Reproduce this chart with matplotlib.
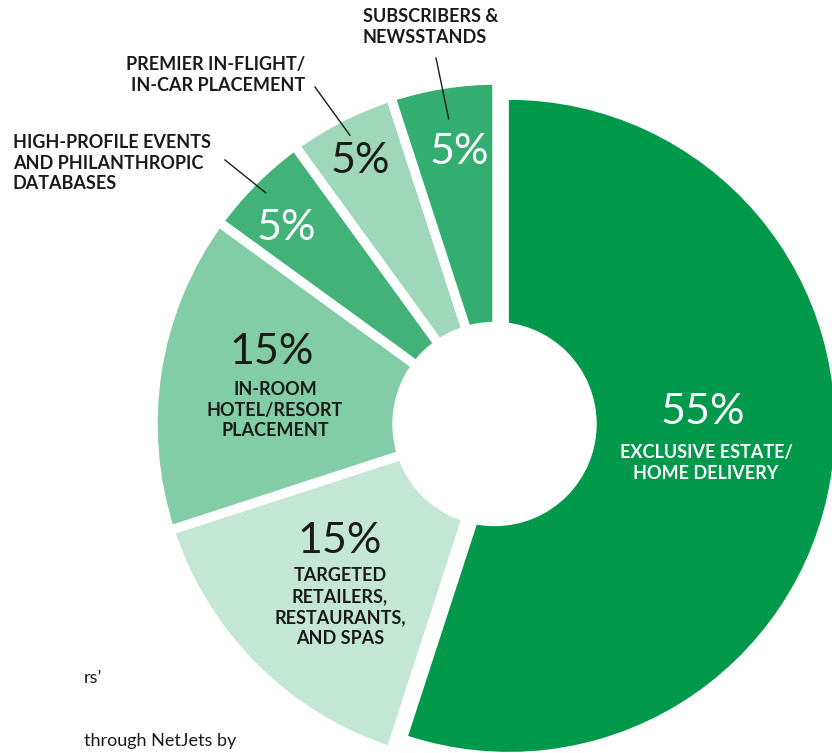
import numpy as np
import matplotlib
matplotlib.use('Agg')
import matplotlib.pyplot as plt
from matplotlib.patches import Circle

# distribution shares, clockwise from 12 o'clock
shares = [55, 15, 15, 5, 5, 5]
pct_labels = ['55%', '15%', '15%', '5%', '5%', '5%']
names = ['EXCLUSIVE ESTATE/\nHOME DELIVERY',
         'TARGETED\nRETAILERS,\nRESTAURANTS,\nAND SPAS',
         'IN-ROOM\nHOTEL/RESORT\nPLACEMENT',
         'HIGH-PROFILE EVENTS\nAND PHILANTHROPIC\nDATABASES',
         'PREMIER IN-FLIGHT/\nIN-CAR PLACEMENT',
         'SUBSCRIBERS &\nNEWSSTANDS']
colors = ['#00994c', '#c3e6d5', '#82cda5', '#42b278', '#9ed7b9', '#34ad71']
pct_colors = ['white', '#1a1a1a', '#1a1a1a', 'white', '#1a1a1a', 'white']

W, H = 832, 753
INK = '#1a1a1a'
plt.rcParams['font.family'] = ['Lato', 'DejaVu Sans']

fig = plt.figure(figsize=(W / 100, H / 100), dpi=100)
ax = fig.add_axes([0, 0, 1, 1])

cx, cy = 497, 424
# y axis is inverted (image coords), so go "counterclockwise" in data to get clockwise on screen
wedges, _ = ax.pie(shares, colors=colors, center=(cx, cy), radius=344,
                   startangle=-90, counterclock=True,
                   explode=[12, 0, 0, 0, 0, 0],
                   wedgeprops=dict(edgecolor='white', linewidth=6.8))
wedges[0].set_radius(326)
wedges[0].set_linewidth(0)

ax.add_patch(Circle((494.5, 424), 101.5, color='white', zorder=5))

ax.set_xlim(0, W)
ax.set_ylim(H, 0)
ax.set_aspect('equal', adjustable='box')
ax.axis('off')

pct_font = dict(fontsize=31, fontweight='normal', ha='center', va='center', zorder=6)
lab_font = dict(fontsize=13, fontweight='bold', linespacing=1.28, zorder=6)

# big inside labels
ax.text(703, 412, pct_labels[0], color=pct_colors[0], **pct_font)
ax.text(706, 463, names[0], color='white', ha='center', va='center', **lab_font)
ax.text(340, 541, pct_labels[1], color=pct_colors[1], **pct_font)
ax.text(340, 607, names[1], color=INK, ha='center', va='center', **lab_font)
ax.text(272, 352, pct_labels[2], color=pct_colors[2], **pct_font)
ax.text(275, 410, names[2], color=INK, ha='center', va='center', **lab_font)

# small slices: percentage inside, name outside with a leader line
ax.text(286, 228, pct_labels[3], color=pct_colors[3], **pct_font)
ax.text(360, 161, pct_labels[4], color=pct_colors[4], **pct_font)
ax.text(459, 152, pct_labels[5], color=pct_colors[5], **pct_font)

outside = {3: ((13, 163), 'left', (225, 160), 327),
           4: ((305, 75), 'right', (315, 87), 324),
           5: ((363, 27), 'left', (436, 58), 309)}
for i, (pos, ha, start, r) in outside.items():
    w = wedges[i]
    mid = np.deg2rad((w.theta1 + w.theta2) / 2)
    ax.text(pos[0], pos[1], names[i], color=INK, ha=ha, va='center',
            multialignment=ha, **lab_font)
    ax.plot([start[0], cx + r * np.cos(mid)], [start[1], cy + r * np.sin(mid)],
            color=INK, lw=1, zorder=6)

# bits of surrounding page text
ax.text(84, 678, 'rs\u2019', color=INK, fontsize=13, ha='left', va='center')
ax.text(84, 741, 'through NetJets by', color=INK, fontsize=13, ha='left', va='center')

fig.savefig('out.png', dpi=100)
